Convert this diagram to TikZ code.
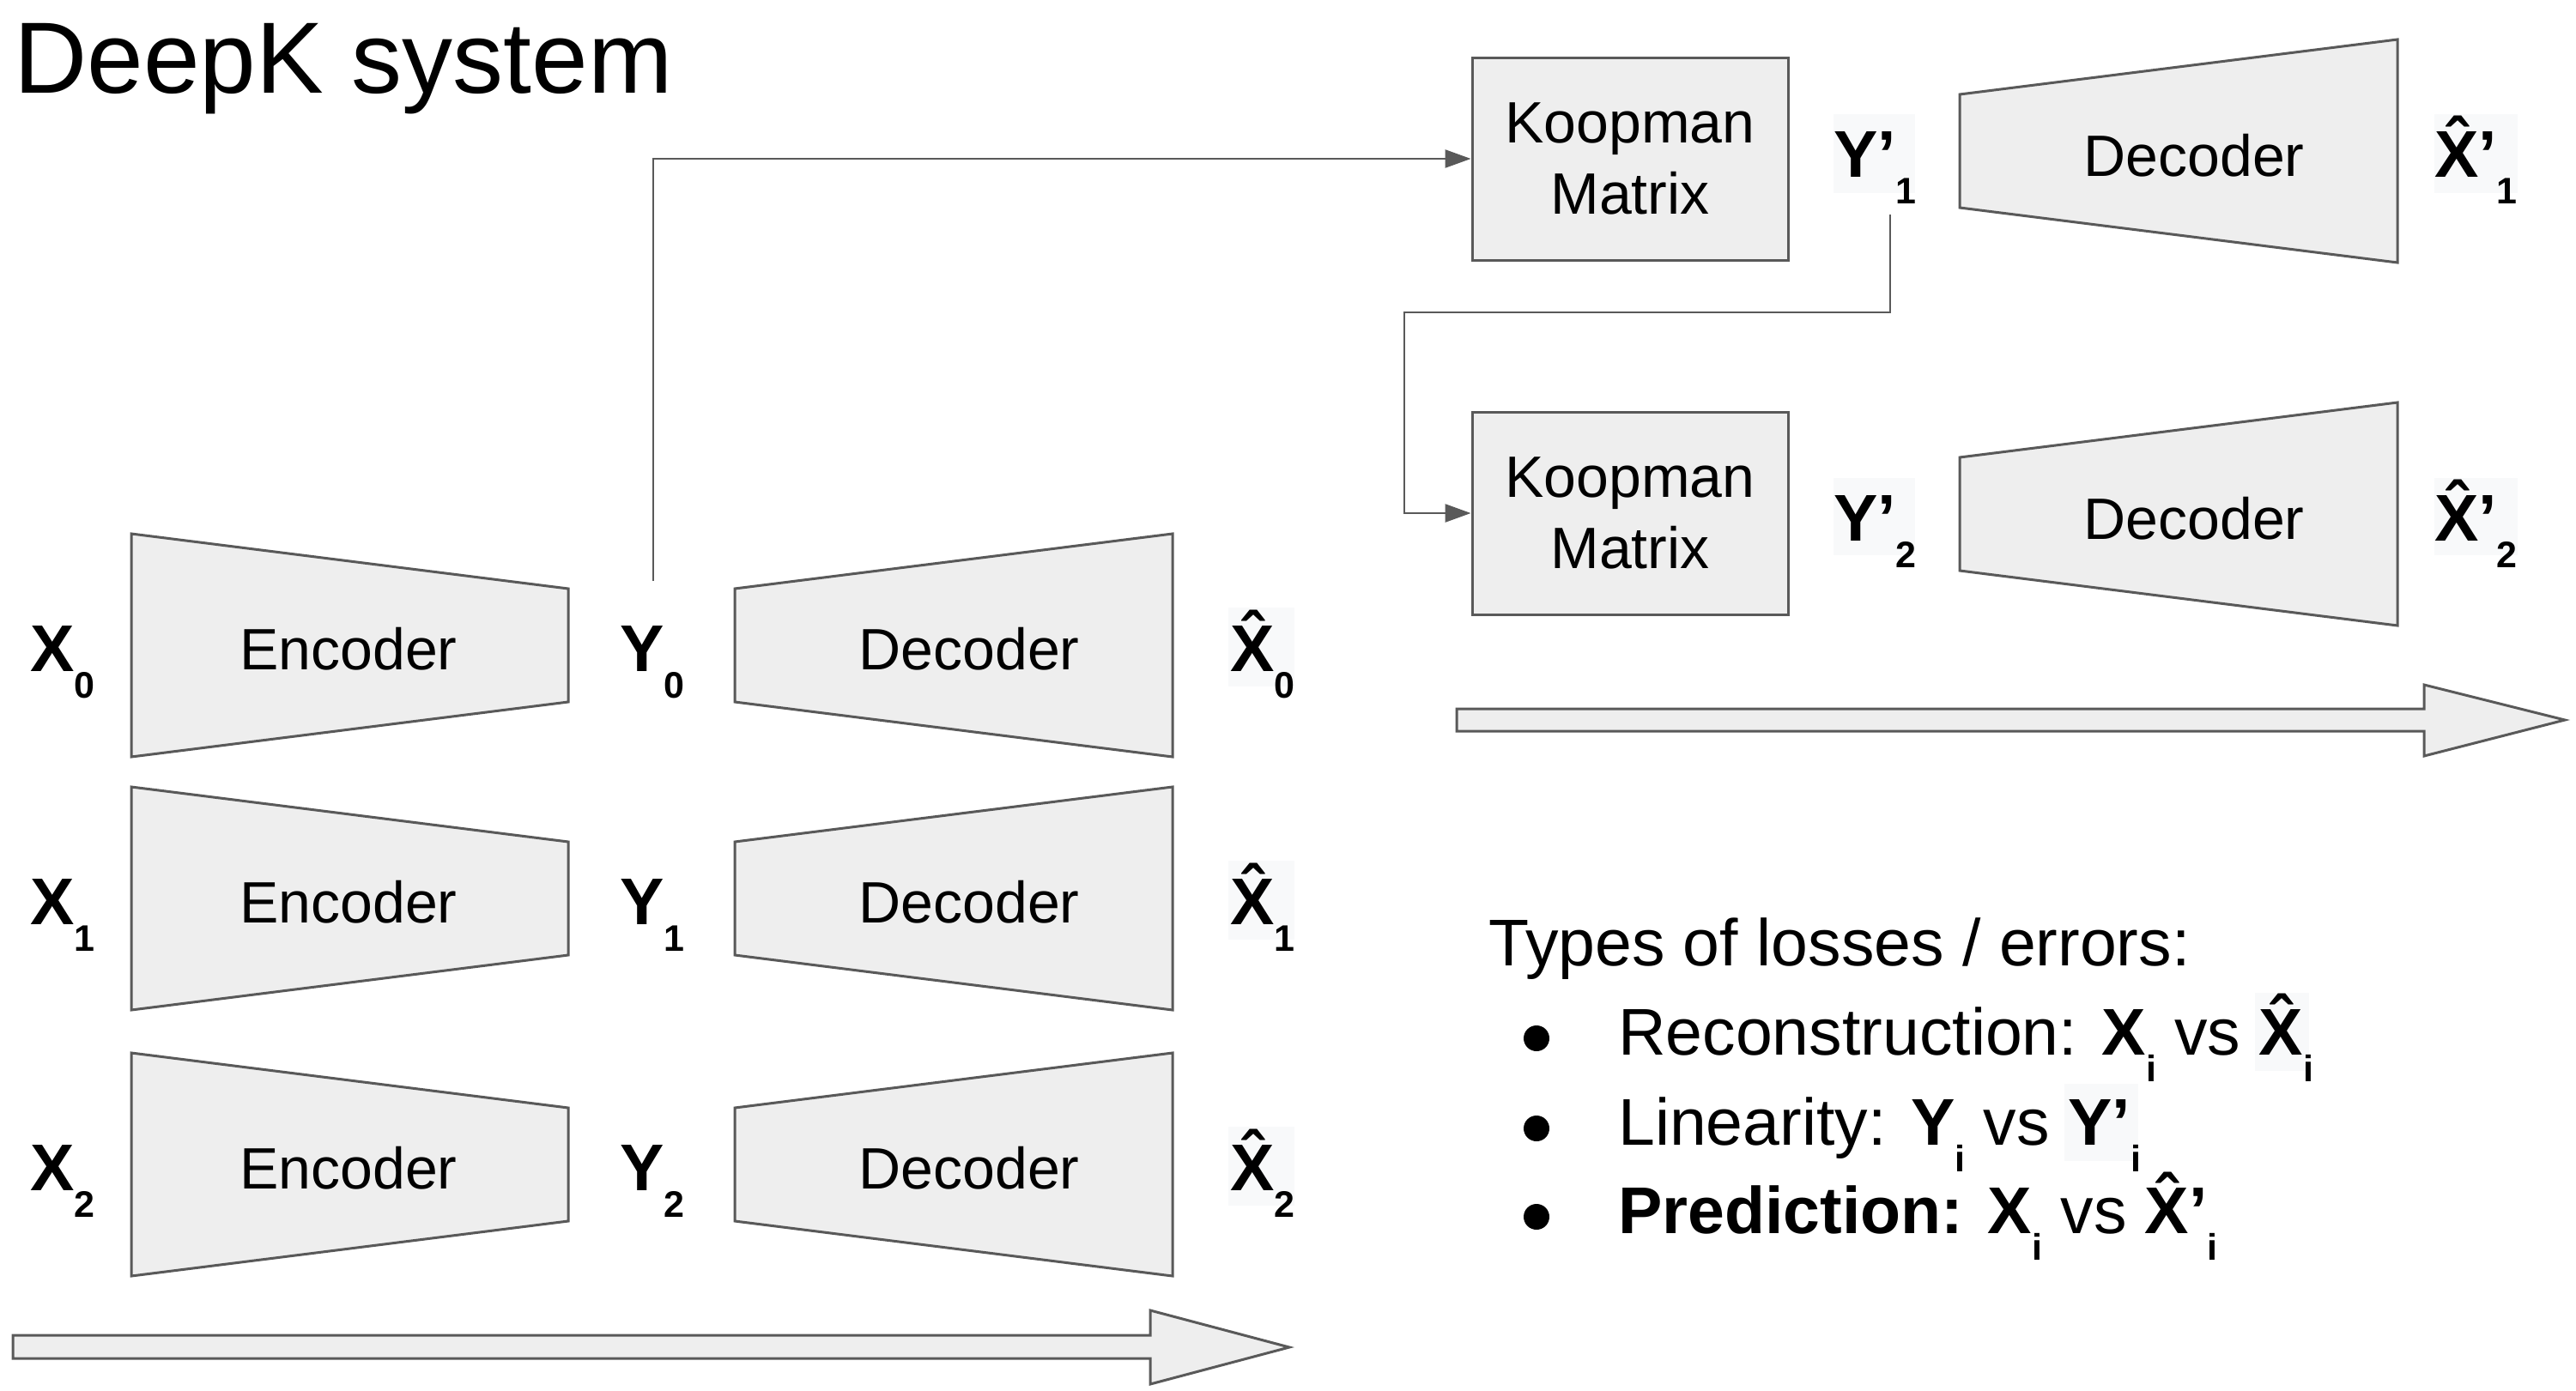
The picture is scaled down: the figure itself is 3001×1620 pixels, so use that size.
\documentclass[tikz,border=0pt]{standalone}
\usepackage{fontspec}
\setmainfont{Liberation Sans}
\usetikzlibrary{arrows.meta}
\definecolor{lineg}{HTML}{595959}
\definecolor{fillg}{HTML}{EEEEEE}
\definecolor{bgf}{HTML}{F8F9FA}
\newcommand\sbs[1]{\raisebox{-31pt}{\fontsize{43}{43}\selectfont #1}}
\newcommand\hatX{\ooalign{X\cr\hidewidth\raisebox{14pt}{\char"02C6}\hidewidth\cr}}
% encoder / decoder trapezoids: left x, centre y, width
\newcommand\encshape[3]{\draw[shp] (#1,#2-130) -- (#1+#3,#2-66) -- (#1+#3,#2+66) -- (#1,#2+130) -- cycle;}
\newcommand\decshape[3]{\draw[shp] (#1,#2-66) -- (#1+#3,#2-130) -- (#1+#3,#2+130) -- (#1,#2+66) -- cycle;}
\begin{document}
\begin{tikzpicture}[x=1pt,y=-1pt,
  shp/.style={draw=lineg, fill=fillg, line width=3pt, line join=miter},
  boxtxt/.style={font=\fontsize{68}{83}\selectfont, inner sep=0pt, anchor=base},
  lab/.style={font=\fontsize{77}{77}\selectfont\bfseries, inner sep=0pt, anchor=base west},
  leg/.style={font=\fontsize{77}{77}\selectfont, inner sep=0pt, anchor=base west},
  ttl/.style={font=\fontsize{118}{118}\selectfont, inner sep=0pt, anchor=base west},
  koop/.style={draw=lineg, fill=fillg, line width=3pt, minimum width=368pt, minimum height=236pt,
    align=center, font=\fontsize{68}{83}\selectfont, inner sep=0pt},
  conn/.style={draw=lineg, line width=2.5pt, -{Triangle[length=30pt,width=21pt]}},
  bul/.style={circle, fill=black, minimum size=30pt, inner sep=0pt},
  blockarrow/.style={draw=lineg, fill=fillg, line width=3pt, line join=miter}]
\useasboundingbox (0,0) rectangle (3001,1620);
\fill[white] (0,0) rectangle (3001,1620);

\node[ttl] (title) at (16,108) {DeepK system};

% rows of encoder / decoder
\foreach \c/\i in {752/0,1047/1,1357/2}{
  \encshape{153}{\c}{509}
  \decshape{856}{\c}{510}
  \node[boxtxt] (enc\i) at (406,\c+28) {Encoder};
  \node[boxtxt] (dec\i) at (1129,\c+28) {Decoder};
  \node[lab] (x\i) at (35,\c+30) {X\sbs{\i}};
  \node[lab] (y\i) at (722,\c+30) {Y\sbs{\i}};
  \fill[bgf] (1431,\c-44) rectangle (1508,\c+48);
  \node[lab] (xh\i) at (1433,\c+30) {\hatX\sbs{\i}};
}

% Koopman boxes
\node[koop] (k1) at (1899,185) {Koopman\\Matrix};
\node[koop] (k2) at (1899,598) {Koopman\\Matrix};

% right decoders
\decshape{2283}{176}{510}
\decshape{2283}{599}{510}
\node[boxtxt] (dec3) at (2556,205) {Decoder};
\node[boxtxt] (dec4) at (2556,628) {Decoder};

\fill[bgf] (2136,133) rectangle (2231,225);
\node[lab] (yp1) at (2136,206) {Y’\sbs{1}};
\fill[bgf] (2836,133) rectangle (2933,225);
\node[lab] (xp1) at (2836,206) {\hatX’\sbs{1}};
\fill[bgf] (2136,557) rectangle (2231,647);
\node[lab] (yp2) at (2136,630) {Y’\sbs{2}};
\fill[bgf] (2836,557) rectangle (2933,647);
\node[lab] (xp2) at (2836,630) {\hatX’\sbs{2}};

% connectors
\coordinate (c0) at (761,677);
\draw[conn] (c0) |- (k1.west);
\coordinate (c1) at (2202,250);
\coordinate (fb) at (1636,364);
\draw[conn] (c1) |- (fb) |- (k2.west);

% block arrows
\draw[blockarrow] (15,1556) -- (1340,1556) -- (1340,1527) -- (1502,1570) -- (1340,1613)
  -- (1340,1583) -- (15,1583) -- cycle;
\draw[blockarrow] (1697,826) -- (2824,826) -- (2824,798) -- (2988,839) -- (2824,881)
  -- (2824,852) -- (1697,852) -- cycle;

% legend
\node[leg] (lt) at (1734,1125) {Types of losses / errors:};
\fill[bgf] (2627,1157) rectangle (2690,1248);
\fill[bgf] (2405,1263) rectangle (2491,1353);
\node[bul] (b1) at (1790,1210) {};
\node[bul] (b2) at (1790,1315) {};
\node[bul] (b3) at (1790,1418) {};
\node[leg] (l1) at (1885,1229) {Reconstruction: \textbf{X\sbs{i}} vs \textbf{\hatX\sbs{i}}};
\node[leg] (l2) at (1885,1334) {Linearity: \textbf{Y\sbs{i}} vs \textbf{Y’\sbs{i}}};
\node[leg] (l3) at (1885,1437) {\textbf{Prediction: X\sbs{i}} vs \textbf{\hatX’\sbs{i}}};
\end{tikzpicture}
\end{document}
